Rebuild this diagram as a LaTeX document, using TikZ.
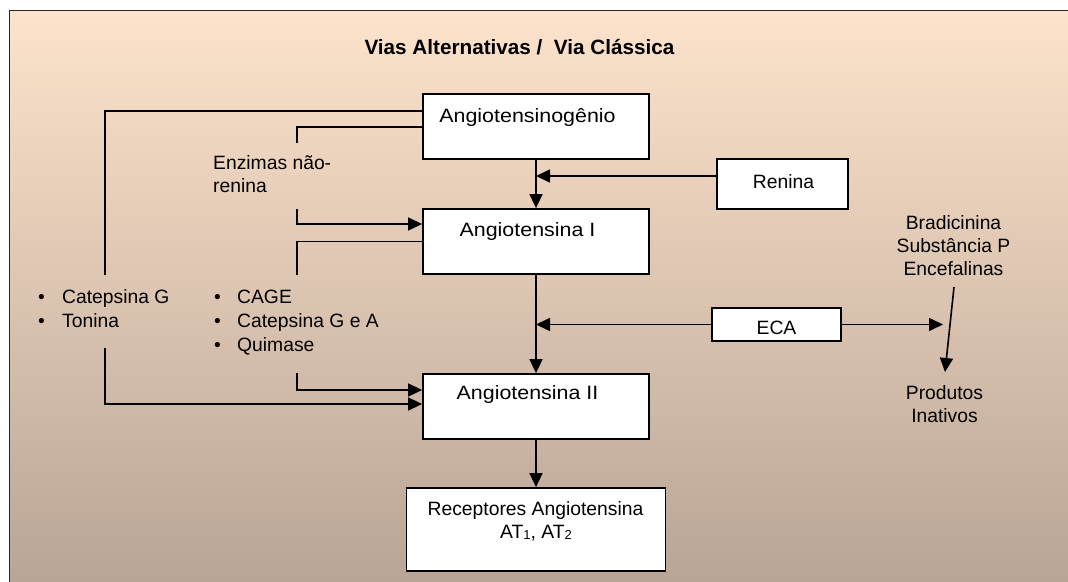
\documentclass[tikz,border=0pt]{standalone}
\usepackage{fontspec}
\setmainfont{Liberation Sans}
\usetikzlibrary{arrows.meta,calc}
\definecolor{bgtop}{RGB}{253,227,203}
\definecolor{bgbot}{RGB}{185,165,150}
\tikzset{
  box/.style={draw, line width=1.8pt, fill=white, inner sep=0pt},
  txt/.style={inner sep=0pt, anchor=base, font=\fontsize{19.3}{23}\selectfont},
  ltxt/.style={txt, anchor=base west},
  ttl/.style={txt, font=\fontsize{20.7}{24}\selectfont\bfseries},
  link/.style={line width=1.6pt},
  arr/.style={link, -{Triangle[length=14pt,width=13pt]}},
}
\newcommand{\smalldigit}[1]{{\fontsize{13}{13}\selectfont\raisebox{-1.5pt}{#1}}}
\newcommand{\widetext}[1]{\scalebox{1.11}[1]{#1}}
\begin{document}
\begin{tikzpicture}[x=1pt,y=-1pt]
  \useasboundingbox (0,0) rectangle (1068,581);
  \clip (0,0) rectangle (1068,581);
  \fill[white] (0,0) rectangle (1068,581);
  % panel with vertical gradient and frame
  \fill[top color=bgtop, bottom color=bgbot] (9.5,10.5) rectangle (1080,581);
  \draw[line width=1.6pt, black!85] (9.5,600) -- (9.5,10.5) -- (1090,10.5);

  \node[ttl] (title) at (519.5,54) {Vias Alternativas /\ \ Via Clássica};

  % main pathway boxes
  \node[box, minimum width=226pt, minimum height=65pt] (ang0) at (536,126.5) {};
  \node[box, minimum width=226pt, minimum height=65pt] (ang1) at (536,241.5) {};
  \node[box, minimum width=226pt, minimum height=65pt] (ang2) at (536,406.5) {};
  \node[box, minimum width=259pt, minimum height=83pt] (rec) at (536,529.5) {};
  \node[box, minimum width=131pt, minimum height=50pt] (renina) at (782.5,184) {};
  \node[box, minimum width=129pt, minimum height=33pt] (eca) at (776.5,324.5) {};

  \node[txt] (ang0t) at (527.5,122) {\widetext{Angiotensinogênio}};
  \node[txt] (ang1t) at (527.5,236) {\widetext{Angiotensina I}};
  \node[txt] (ang2t) at (527.5,399) {\widetext{Angiotensina II}};
  \node[txt] (rect1) at (535.5,515) {Receptores Angiotensina};
  \node[txt] (rect2) at (536,538) {AT\smalldigit{1}, AT\smalldigit{2}};
  \node[txt] (renint) at (783.5,188) {Renina};
  \node[txt] (ecat) at (776.5,334) {ECA};

  % side labels
  \node[ltxt] (enz1) at (213,169) {Enzimas não-};
  \node[ltxt] (enz2) at (213,192) {renina};
  \node[ltxt] (catg) at (38,303) {\makebox[24pt][l]{•}Catepsina G};
  \node[ltxt] (ton) at (38,327) {\makebox[24pt][l]{•}Tonina};
  \node[ltxt] (cage) at (214,303) {\makebox[23pt][l]{•}CAGE};
  \node[ltxt] (catga) at (214,327) {\makebox[23pt][l]{•}Catepsina G e A};
  \node[ltxt] (quim) at (214,351) {\makebox[23pt][l]{•}Quimase};
  \node[txt] (brad1) at (953.5,229) {Bradicinina};
  \node[txt] (brad2) at (953.5,252) {Substância P};
  \node[txt] (brad3) at (953.5,275) {Encefalinas};
  \node[txt] (prod1) at (944.5,399) {Produtos};
  \node[txt] (prod2) at (944.5,422) {Inativos};

  % free ends of the side connectors
  \coordinate (catGtop) at (105,275);
  \coordinate (catGbot) at (105,348);
  \coordinate (enzTop) at (297,143);
  \coordinate (enzBot) at (297,209);
  \coordinate (cageTop) at (297,275);
  \coordinate (cageBot) at (297,373);
  \coordinate (ecaEnd) at (943,324.5);
  \coordinate (bradOut) at (954,287);
  \coordinate (prodIn) at (945,372);

  % classical pathway
  \draw[arr] (ang0.south) -- (ang1.north);
  \draw[arr] (ang1.south) -- (ang2.north);
  \draw[arr] (ang2.south) -- (rec.north);
  \draw[arr] ([yshift=8pt]renina.west) -- ([yshift=8pt]renina.west -| ang0.south);
  \draw[arr] (eca.west) -- (eca.west -| ang1.south);
  \draw[arr] (eca.east) -- (ecaEnd);
  \draw[arr] (bradOut) -- (prodIn);

  % alternative pathways
  \draw[link] ([yshift=15.5pt]ang0.west) -| (catGtop);
  \draw[link] ([yshift=-0.5pt]ang0.west) -| (enzTop);
  \draw[arr] (enzBot) |- ([yshift=17.5pt]ang1.west);
  \draw[link] (ang1.west) -| (cageTop);
  \draw[arr] (cageBot) |- ([yshift=16.5pt]ang2.west);
  \draw[arr] (catGbot) |- ([yshift=2.5pt]ang2.west);
\end{tikzpicture}
\end{document}
